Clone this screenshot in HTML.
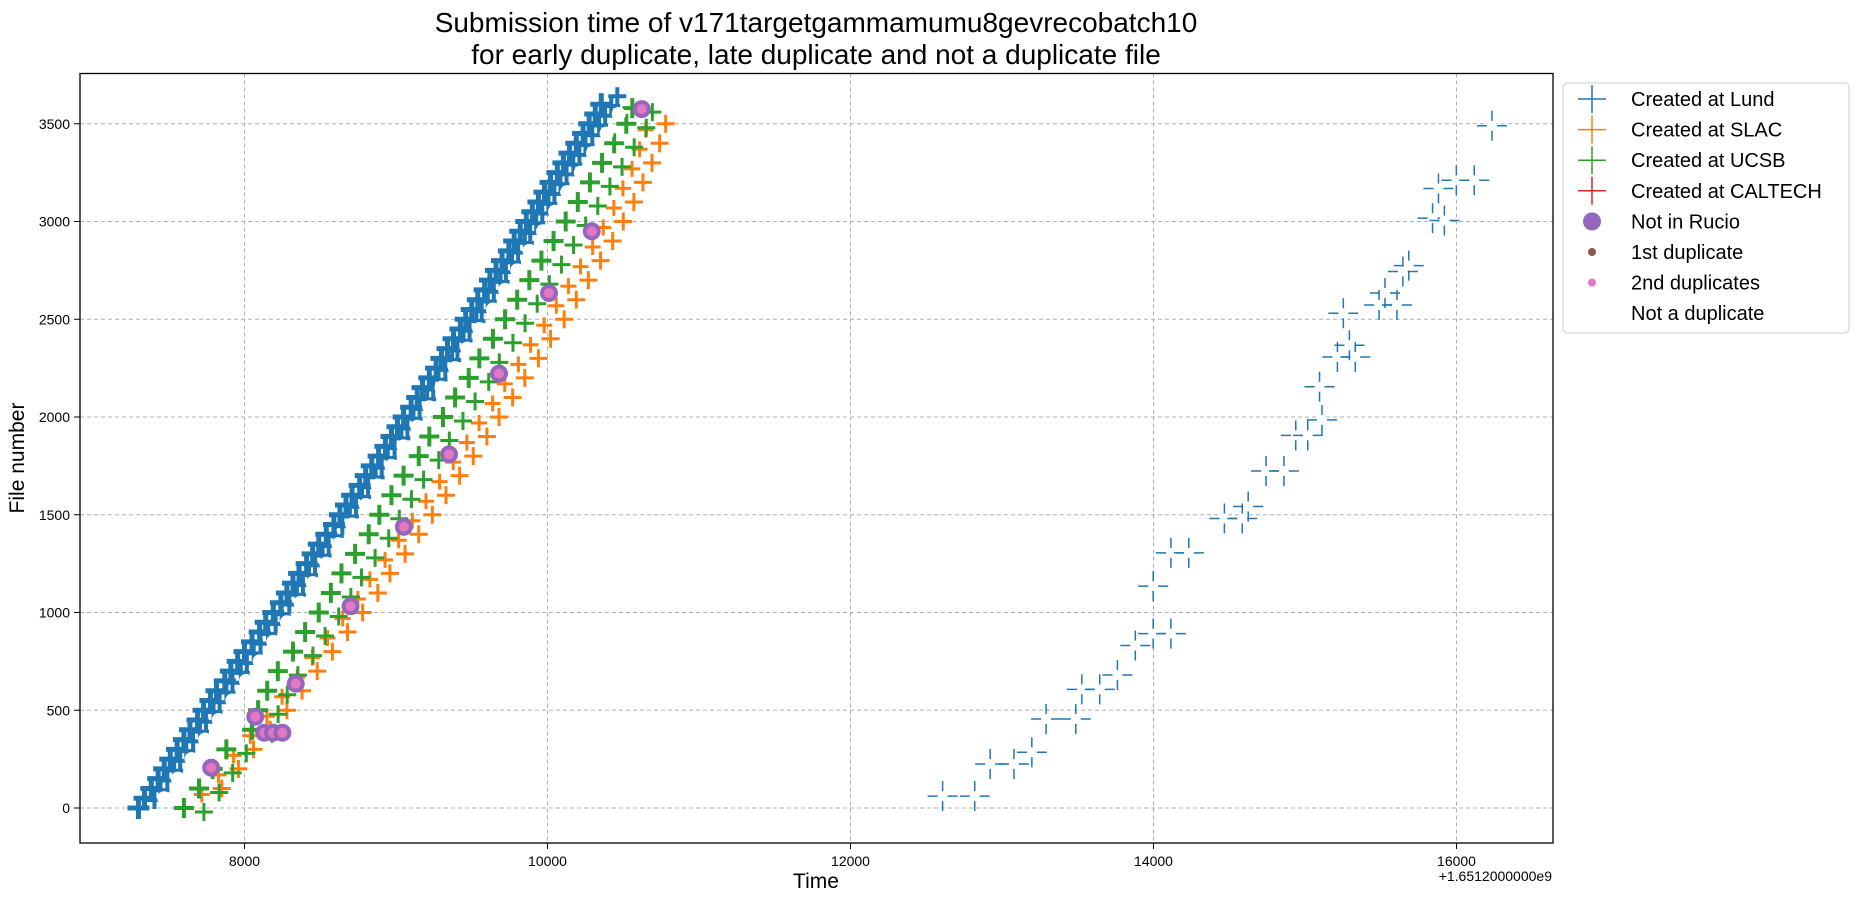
<!DOCTYPE html>
<html><head><meta charset="utf-8"><style>
html,body{margin:0;padding:0;background:#fff;}
svg{display:block;font-family:"Liberation Sans","DejaVu Sans",sans-serif;}
</style></head><body>
<svg id="chart" width="1858" height="902" viewBox="0 0 1858 902" xmlns="http://www.w3.org/2000/svg">
<text x="816" y="32" font-size="28" text-anchor="middle">Submission time of v171targetgammamumu8gevrecobatch10</text>
<text x="816" y="64" font-size="28" text-anchor="middle">for early duplicate, late duplicate and not a duplicate file</text>
<g id="grid"></g>
<g id="marks"></g>
<rect x="80" y="73.5" width="1473" height="769.5" fill="none" stroke="#000" stroke-width="1.3"/>
<g id="ticks"></g>
<text x="816" y="888" font-size="21" text-anchor="middle">Time</text>
<text x="1552" y="881" font-size="14" text-anchor="end">+1.6512000000e9</text>
<text x="24" y="458" font-size="21" text-anchor="middle" transform="rotate(-90 24 458)">File number</text>
<g>
<rect x="1563" y="83" width="286" height="250" rx="4" fill="#fff" stroke="#ccc" stroke-width="1"/>
<g id="legend-items"></g>
</g>
</svg>
<script>
const xTicks=[8000,10000,12000,14000,16000];
const yTicks=[0,500,1000,1500,2000,2500,3000,3500];
const lundN=[0,50,100,150,200,250,300,350,400,450,500,550,600,650,700,750,800,850,900,950,1000,1050,1100,1150,1200,1250,1300,1350,1400,1450,1500,1550,1600,1650,1700,1750,1800,1850,1900,1950,2000,2050,2100,2150,2200,2250,2300,2350,2400,2450,2500,2550,2600,2650,2700,2750,2800,2850,2900,2950,3000,3050,3100,3150,3200,3250,3300,3350,3400,3450,3500,3550,3600];
const lundT=[7300,7340,7385,7430,7470,7510,7555,7600,7640,7690,7730,7775,7815,7870,7910,7955,8000,8050,8100,8140,8190,8240,8280,8320,8360,8410,8450,8490,8540,8590,8630,8670,8710,8760,8800,8840,8885,8930,8970,9010,9050,9100,9140,9175,9220,9265,9300,9340,9380,9425,9460,9500,9540,9585,9620,9660,9700,9745,9780,9820,9860,9900,9940,9980,10020,10065,10105,10145,10190,10235,10275,10315,10355];
const lundLateT=[12608,12820,12922,13079,13197,13291,13487,13527,13645,13762,13880,13998,14115,13998,14115,14233,14468,14586,14625,14743,14861,14939,15018,15112,15096,15214,15332,15293,15253,15489,15607,15528,15646,15685,15842,15920,15881,15999,16117,16234];
const lundLateN=[61,61,225,225,285,455,455,607,607,680,831,892,892,1135,1305,1305,1481,1481,1542,1724,1724,1906,1906,1985,2155,2307,2307,2367,2531,2573,2573,2634,2744,2774,3017,3005,3169,3211,3211,3490];
const ucsbN=[0,100,200,300,400,500,600,700,800,900,1000,1100,1200,1300,1400,1500,1600,1700,1800,1900,2000,2100,2200,2300,2400,2500,2600,2700,2800,2900,3000,3100,3200,3300,3400,3500,3580];
const ucsbT=[7600,7700,7790,7880,8050,8090,8150,8220,8320,8400,8490,8570,8640,8730,8820,8890,8970,9050,9150,9220,9310,9390,9480,9550,9640,9720,9800,9880,9960,10040,10120,10200,10280,10360,10440,10520,10560];
const slacN=[100,200,300,400,500,600,700,800,900,1000,1100,1200,1300,1400,1500,1600,1700,1800,1900,2000,2100,2200,2300,2400,2500,2600,2700,2800,2900,3000,3100,3200,3300,3400,3500];
const slacT=[7850,7960,8060,8170,8280,8380,8480,8580,8680,8780,8880,8960,9060,9150,9240,9330,9420,9510,9600,9680,9770,9850,9940,10020,10110,10190,10270,10350,10430,10500,10570,10630,10690,10740,10780];
const notDupN=[50,150,250,350,450,550,650,750,850,950,1050,1150,1250,1350,1450,1550,1650,1750,1850,1950,2050,2150,2250,2350,2450,2550,2650,2750,2850,2950,3050,3150,3250,3350,3450,3550];
const notDupT=[7470,7560,7650,7740,7830,7920,8010,8100,8190,8280,8370,8450,8540,8620,8710,8800,8880,8970,9050,9140,9220,9300,9390,9470,9550,9640,9720,9800,9880,9970,10050,10130,10220,10300,10390,10470];
const rucioT=[7780,8071,8130,8188,8250,8338,8700,9052,9350,9680,10010,10292,10622];
const rucioN=[206,467,385,385,385,636,1032,1438,1809,2222,2634,2950,3575];
const NS="http://www.w3.org/2000/svg";
function X(t){return 244.5+(t-8000)*0.1515;}
function Y(n){return 808-n*0.1955;}
function mk(tag,attrs,parent){const e=document.createElementNS(NS,tag);for(const k in attrs)e.setAttribute(k,attrs[k]);parent.appendChild(e);return e;}
const grid=document.getElementById('grid'),ticks=document.getElementById('ticks'),marks=document.getElementById('marks');
xTicks.forEach(v=>{
  const l=mk('line',{x1:X(v),x2:X(v),y1:73.5,y2:843,stroke:'#b0b0b0','stroke-dasharray':'4,3','stroke-width':1},grid);
  
  
  mk('line',{x1:X(v),x2:X(v),y1:843,y2:849,stroke:'#000'},ticks);
  const t=mk('text',{x:X(v),y:866,'font-size':14,'text-anchor':'middle'},ticks);t.textContent=v;
  
  
});
yTicks.forEach(v=>{
  const l=mk('line',{x1:80,x2:1553,y1:Y(v),y2:Y(v),stroke:'#b0b0b0','stroke-dasharray':'4,3','stroke-width':1},grid);
  
  
  mk('line',{x1:74,x2:80,y1:Y(v),y2:Y(v),stroke:'#000'},ticks);
  const t=mk('text',{x:70,y:Y(v)+5,'font-size':14,'text-anchor':'end'},ticks);t.textContent=v;
  
  
});
function cross(x,y,s,w,c,name){
  const g=mk('g',{stroke:c,'stroke-width':w},marks);
  
  
  mk('line',{x1:x-s,x2:x+s,y1:y,y2:y},g);mk('line',{x1:x,x2:x,y1:y-s,y2:y+s},g);
}
function dot(x,y,r,c,name){
  const e=mk('circle',{cx:x,cy:y,r:r,fill:c},marks);
  
  
}
lundT.forEach((t,i)=>{cross(X(t),Y(lundN[i]),11,5,'#1f77b4','lund-point');cross(X(t)+16,Y(lundN[i])-8,9,4,'#1f77b4','lund-point');});
slacT.forEach((t,i)=>{cross(X(t),Y(slacN[i]),9,3,'#ff7f0e','slac-point');cross(X(t)-20,Y(slacN[i])+6,8,3,'#ff7f0e','slac-point');});
ucsbT.forEach((t,i)=>{cross(X(t),Y(ucsbN[i]),10,4,'#2ca02c','ucsb-point');cross(X(t)+20,Y(ucsbN[i])+4,9,3,'#2ca02c','ucsb-point');});
notDupT.forEach((t,i)=>{dot(X(t),Y(notDupN[i]),7,'#fff','not-duplicate-point');});
rucioT.forEach((t,i)=>{dot(X(t),Y(rucioN[i]),9,'#9467bd','not-in-rucio-point');dot(X(t),Y(rucioN[i]),5,'#e377c2','second-duplicate-point');});
lundLateT.forEach((t,i)=>{cross(X(t),Y(lundLateN[i]),15,1.5,'#1f77b4','lund-late-point');dot(X(t),Y(lundLateN[i]),5,'#fff','not-duplicate-point');});
const leg=document.getElementById('legend-items');
const items=[['Created at Lund','#1f77b4','cross'],['Created at SLAC','#ff7f0e','cross'],['Created at UCSB','#2ca02c','cross'],['Created at CALTECH','#d62728','cross'],['Not in Rucio','#9467bd','big'],['1st duplicate','#8c564b','small'],['2nd duplicates','#e377c2','small'],['Not a duplicate','#fff','small']];
items.forEach((it,i)=>{
  const y=99+i*30.6;
  const g=mk('g',{},leg);
  
  
  if(it[2]==='cross'){mk('line',{x1:1578,x2:1606,y1:y,y2:y,stroke:it[1],'stroke-width':1.5},g);mk('line',{x1:1592,x2:1592,y1:y-14,y2:y+14,stroke:it[1],'stroke-width':1.5},g);}
  else mk('circle',{cx:1592,cy:y,r:it[2]==='big'?9:4,fill:it[1]},g);
  const t=mk('text',{x:1631,y:y+7,'font-size':20},g);t.textContent=it[0];
});
</script>
</body></html>
